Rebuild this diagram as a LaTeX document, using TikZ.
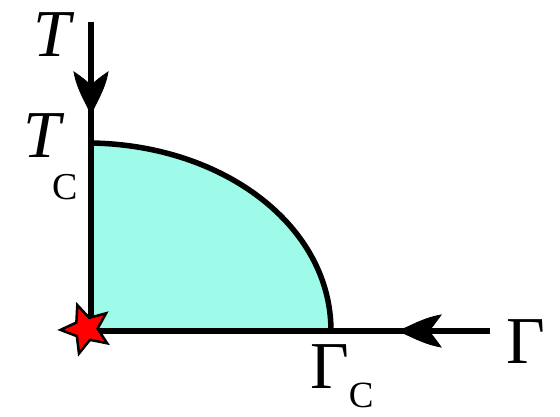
\documentclass[tikz,border=0pt]{standalone}
\usepackage{fontspec}
\setmainfont{Liberation Serif}
\usetikzlibrary{shapes.geometric}
\definecolor{regionfill}{RGB}{158,250,233}
\definecolor{starred}{RGB}{255,0,0}
\begin{document}
\begin{tikzpicture}[x=1pt,y=-1pt,
  axis/.style={line width=5.5pt},
  boundary/.style={line width=5.5pt},
  ahead/.style={fill=black,draw=black,line width=0.8pt,line join=miter},
  bigtxt/.style={inner sep=0pt,font=\fontsize{67}{67}\selectfont},
  ]
\useasboundingbox (0,0) rectangle (560,417);
\coordinate (O) at (91,331);
\coordinate (Ttop) at (91,22);
\coordinate (Gend) at (490,331);
\coordinate (Tc) at (91,143);
\coordinate (Gc) at (331,331);
% region
\fill[regionfill] (O) -- (Tc) .. controls (224,145) and (331,226) .. (Gc) -- cycle;
\draw[boundary] (Tc) .. controls (224,145) and (331,226) .. (Gc);
% axes
\draw[axis] (Ttop) -- (O) -- (Gend);
% arrowheads
\fill[ahead] (91,115) .. controls (87,104) and (77,90) .. (74,72)
  .. controls (81,77) and (87,81) .. (91,86)
  .. controls (95,81) and (101,77) .. (108,72)
  .. controls (105,90) and (95,104) .. cycle;
\fill[ahead] (398,331) .. controls (409,327) and (423,318) .. (441,315)
  .. controls (436,322) and (432,327) .. (429,331)
  .. controls (432,335) and (436,340) .. (441,347)
  .. controls (423,344) and (409,335) .. cycle;
% star
\node[star,star points=5,star point ratio=2.2,minimum size=51pt,inner sep=0pt,
  rotate=20,fill=starred,draw=black,line width=2.5pt] (star) at (86,329) {};
% labels
\node[bigtxt,anchor=base west] (Tlab) at (33,57) {\itshape T};
\node[bigtxt,anchor=base west] (Tclab) at (23,158) {\itshape T\hspace{-8pt}\raisebox{-42pt}{\fontsize{38}{38}\selectfont\upshape C}};
\node[bigtxt,anchor=base west] (Glab) at (506,363) {Γ};
\node[bigtxt,anchor=base west] (Gclab) at (310,388) {Γ\raisebox{-19pt}{\fontsize{37}{37}\selectfont C}};
\end{tikzpicture}
\end{document}
